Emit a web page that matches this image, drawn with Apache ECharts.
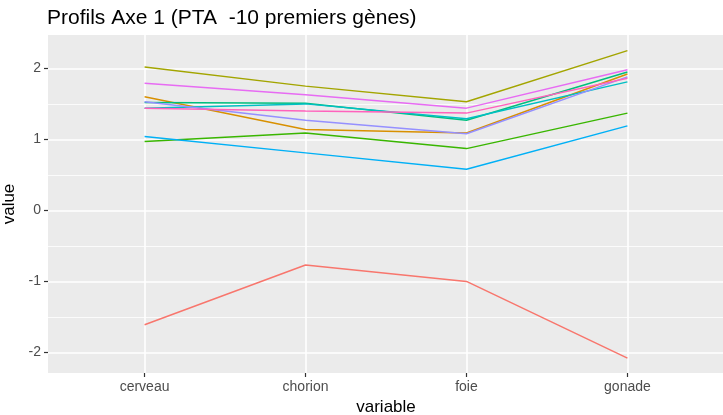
<!DOCTYPE html>
<html>
<head>
<meta charset="utf-8">
<script src="https://cdn.jsdelivr.net/npm/echarts@6/dist/echarts.min.js"></script>
<style>
  html, body { margin: 0; padding: 0; background: #ffffff; }
  #chart { width: 723px; height: 415px; }
</style>
</head>
<body>
<div id="chart"></div>
<script>
// Tissue categories on the x axis
const categories = ['cerveau', 'chorion', 'foie', 'gonade'];

// Profile of each of the 10 genes across the four tissues
const gene01 = [-1.61, -0.77, -1.00, -2.08];
const gene02 = [1.60, 1.14, 1.09, 1.92];
const gene03 = [2.02, 1.75, 1.53, 2.25];
const gene04 = [0.97, 1.09, 0.87, 1.37];
const gene05 = [1.52, 1.51, 1.27, 1.95];
const gene06 = [1.44, 1.50, 1.29, 1.81];
const gene07 = [1.04, 0.81, 0.58, 1.19];
const gene08 = [1.53, 1.27, 1.08, 1.88];
const gene09 = [1.79, 1.63, 1.44, 1.98];
const gene10 = [1.44, 1.40, 1.37, 1.86];

const genes = [gene01, gene02, gene03, gene04, gene05, gene06, gene07, gene08, gene09, gene10];

// Default discrete hue palette for 10 groups
const geneColors = ['#F8766D', '#D89000', '#A3A500', '#39B600', '#00BF7D',
                    '#00BFC4', '#00B0F6', '#9590FF', '#E76BF3', '#FF62BC'];

// Axis ticks and grid lines
const yTicks = [-2, -1, 0, 1, 2];
const yMinor = [-1.5, -0.5, 0.5, 1.5];
const xTicks = [0, 1, 2, 3];

const font = 'Liberation Sans, Arial, sans-serif';

const chart = echarts.init(document.getElementById('chart'), null, { renderer: 'canvas' });

// White panel grid lines, kept underneath the profile lines
function gridSeries(lines, width) {
  return {
    type: 'line',
    data: [],
    silent: true,
    z: 1,
    symbol: 'none',
    lineStyle: { opacity: 0 },
    markLine: {
      silent: true,
      z: 1,
      symbol: 'none',
      animation: false,
      label: { show: false },
      lineStyle: { color: '#FFFFFF', width: width, type: 'solid' },
      emphasis: { disabled: true },
      data: lines
    }
  };
}

const series = [
  gridSeries(yMinor.map(v => ({ yAxis: v })), 0.8),
  gridSeries(yTicks.map(v => ({ yAxis: v })).concat(xTicks.map(v => ({ xAxis: v }))), 1.6)
];

genes.forEach((vals, g) => {
  series.push({
    type: 'line',
    name: 'g' + (g + 1),
    data: vals.map((v, i) => [i, v]),
    symbol: 'none',
    showSymbol: false,
    z: 10,
    lineStyle: { color: geneColors[g], width: 1.5 },
    itemStyle: { color: geneColors[g] },
    emphasis: { disabled: true }
  });
});

chart.setOption({
  animation: false,
  backgroundColor: '#FFFFFF',
  title: {
    text: 'Profils Axe 1 (PTA  -10 premiers gènes)',
    left: 42,
    top: 3,
    textStyle: { fontFamily: font, fontSize: 21, fontWeight: 'normal', color: '#000000' }
  },
  grid: {
    left: 48,
    top: 35,
    width: 676,
    height: 338,
    outerBoundsMode: 'none',
    containLabel: false,
    show: true,
    backgroundColor: '#EBEBEB',
    borderWidth: 0
  },
  xAxis: {
    type: 'value',
    min: -0.6,
    max: 3.6,
    position: 'bottom',
    axisLine: { show: false, onZero: false },
    splitLine: { show: false },
    axisTick: {
      show: true,
      customValues: xTicks,
      length: 4,
      lineStyle: { color: '#333333', width: 1.2 }
    },
    axisLabel: {
      customValues: xTicks,
      formatter: v => categories[Math.round(v)],
      color: '#4D4D4D',
      fontFamily: font,
      fontSize: 14,
      margin: 7
    },
    name: 'variable',
    nameLocation: 'middle',
    nameGap: 24,
    nameTextStyle: { fontFamily: font, fontSize: 17, color: '#000000' }
  },
  yAxis: {
    type: 'value',
    min: -2.29,
    max: 2.47,
    position: 'left',
    axisLine: { show: false, onZero: false },
    splitLine: { show: false },
    axisTick: {
      show: true,
      customValues: yTicks,
      length: 4,
      lineStyle: { color: '#333333', width: 1.2 }
    },
    axisLabel: {
      customValues: yTicks,
      color: '#4D4D4D',
      fontFamily: font,
      fontSize: 14,
      margin: 7
    },
    name: 'value',
    nameLocation: 'middle',
    nameGap: 26,
    nameRotate: 90,
    nameTextStyle: { fontFamily: font, fontSize: 17, color: '#000000' }
  },
  series: series
});
</script>
</body>
</html>
